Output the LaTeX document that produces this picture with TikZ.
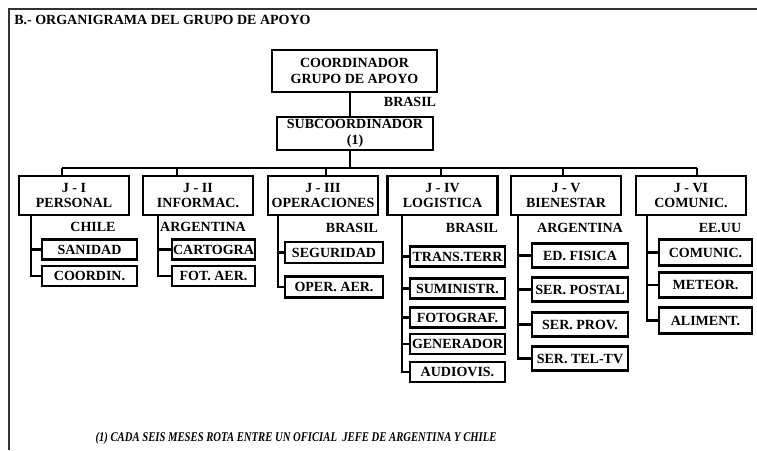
\documentclass[tikz,border=0pt]{standalone}
\usepackage{fontspec}
\setmainfont{Liberation Serif}
\begin{document}
\begin{tikzpicture}[x=0.75pt,y=-0.75pt,
		box/.style={draw,line width=2.1pt,inner sep=0pt,align=center,font=\bfseries\fontsize{10.5}{11.5}\selectfont},
		jbox/.style={box,minimum width=82.5pt,minimum height=29.25pt},
		lbl/.style={font=\bfseries\fontsize{10.5}{11.5}\selectfont,inner sep=0pt},
		link/.style={line width=1.6pt}]
			\useasboundingbox (0,0) rectangle (757,450);
			\draw[line width=1.1pt,black!80](757,9)--(9,9)--(9,450);
			\node[lbl,anchor=west] (title) at(14,20){B.- ORGANIGRAMA DEL GRUPO DE APOYO};
			\node[box,minimum width=123.75pt,minimum height=31.5pt] (coord) at(354.5,71){COORDINADOR\\GRUPO DE APOYO};
			\node[lbl] (pais0) at(410,102){BRASIL};
			\node[box,minimum width=117pt,minimum height=24.75pt] (subc) at(355,133.5){SUBCOORDINADOR\\(1)};
			\coordinate (m) at(350,0);
			\draw[link](coord.south -| m)--(subc.north -| m);
			\coordinate (d1) at(62,168);
			\coordinate (d6) at(697,168);
			\draw[link](d1)--(d6);
			\draw[link](subc.south -| m)--(m |- d1);
			\node[jbox] (j1) at(74,195.5){J - I\\PERSONAL};
			\node[jbox] (j2) at(198,195.5){J - II\\INFORMAC.};
			\node[jbox] (j3) at(323,195.5){J - III\\OPERACIONES};
			\node[jbox] (j4) at(442.5,195.5){J - IV\\LOGISTICA};
			\node[jbox] (j5) at(566,195.5){J - V\\BIENESTAR};
			\node[jbox] (j6) at(691,195.5){J - VI\\COMUNIC.};
			\draw[link](d1)--(d1 |- j1.north);
			\draw[link](177,168)--(177,176) coordinate (d2);
			\draw[link](326,168)--(326,176);
			\draw[link](441,168)--(441,176);
			\draw[link](563,168)--(563,176);
			\draw[link](d6)--(d6 |- j6.north);
			\node[lbl] (pais1) at(93,227){CHILE};
			\node[lbl] (pais2) at(203,227){ARGENTINA};
			\node[lbl] (pais3) at(352,228){BRASIL};
			\node[lbl] (pais4) at(472,228){BRASIL};
			\node[lbl] (pais5) at(580,228){ARGENTINA};
			\node[lbl] (pais6) at(720,228){EE.UU};
			\coordinate (t1) at(31,0);
			\coordinate (t2) at(158,0);
			\coordinate (t3) at(278,0);
			\coordinate (t4) at(402,0);
			\coordinate (t5) at(518,0);
			\coordinate (t6) at(647,0);
			\begin{scope}[every node/.style={box,minimum width=71.25pt,minimum height=15pt}]
				\node (san) at(89.5,249.5){SANIDAD};
				\node (cdn) at(89.5,276){COORDIN.};
			\end{scope}
			\begin{scope}[every node/.style={box,minimum width=62.25pt,minimum height=15pt}]
				\node (car) at(213.5,249.5){CARTOGRA};
				\node (fot) at(213.5,276){FOT. AER.};
			\end{scope}
			\begin{scope}[every node/.style={box,minimum width=73.5pt,minimum height=15.75pt}]
				\node (seg) at(334,252.5){SEGURIDAD};
				\node (ope) at(334,287){OPER. AER.};
			\end{scope}
			\begin{scope}[every node/.style={box,minimum width=71.25pt,minimum height=15pt}]
				\node (tra) at(457.5,256.5){TRANS.TERR};
				\node (sum) at(457.5,288.5){SUMINISTR.};
				\node (fog) at(457.5,317.5){FOTOGRAF.};
				\node (gen) at(457.5,344){GENERADOR};
				\node (aud) at(457.5,372){AUDIOVIS.};
			\end{scope}
			\begin{scope}[every node/.style={box,minimum width=72pt,minimum height=18pt}]
				\node (edf) at(580,255.5){ED. FISICA};
				\node (pos) at(580,289.5){SER. POSTAL};
				\node (pro) at(580,324.5){SER. PROV.};
				\node (tel) at(580,358.5){SER. TEL-TV};
			\end{scope}
			\begin{scope}[every node/.style={box,minimum width=69.75pt,minimum height=19pt}]
				\node (com) at(705.5,252.5){COMUNIC.};
				\node (met) at(705.5,285){METEOR.};
				\node (ali) at(705.5,320.5){ALIMENT.};
			\end{scope}
			\draw[link](j1.south -| t1) |- (cdn.west);
			\draw[link](t1 |- san.west)--(san.west);
			\draw[link](j2.south -| t2) |- (fot.west);
			\draw[link](t2 |- car.west)--(car.west);
			\draw[link](j3.south -| t3) |- (ope.west);
			\draw[link](t3 |- seg.west)--(seg.west);
			\draw[link](j4.south -| t4) |- (aud.west);
			\foreach \n in {tra,sum,fog,gen}
				\draw[link](t4 |- \n.west)--(\n.west);
			\draw[link](j5.south -| t5) |- (tel.west);
			\foreach \n in {edf,pos,pro}
				\draw[link](t5 |- \n.west)--(\n.west);
			\draw[link](j6.south -| t6) |- (ali.west);
			\foreach \n in {com,met}
				\draw[link](t6 |- \n.west)--(\n.west);
			\node[font=\bfseries\itshape\fontsize{10}{11}\selectfont,xscale=0.8,inner sep=0pt] (nota) at(296,438){(1) CADA SEIS MESES ROTA ENTRE UN OFICIAL\ \ JEFE DE ARGENTINA Y CHILE};
		\end{tikzpicture}
\end{document}
